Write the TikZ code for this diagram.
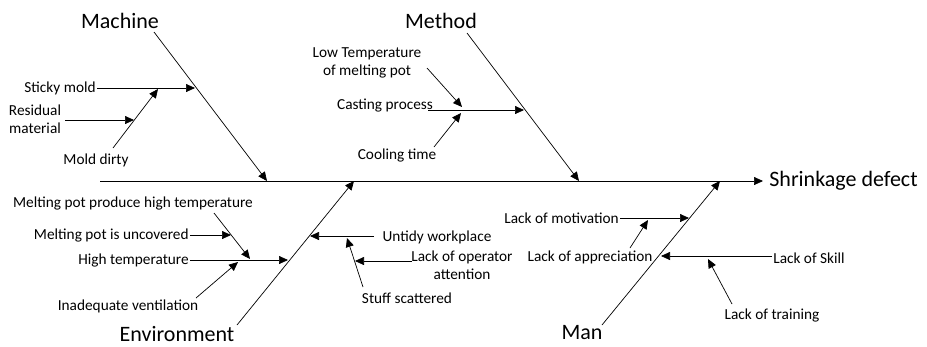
\documentclass[tikz,border=0pt]{standalone}
\usepackage{fontspec}
\setmainfont{Carlito}
\usetikzlibrary{arrows.meta}

\begin{document}
\begin{tikzpicture}[x=1pt,y=-1pt,line width=0.7pt,>={Triangle[length=9pt,width=8pt]},
  bone/.style={font=\fontsize{22}{26}\selectfont,inner sep=0pt},
  cause/.style={font=\fontsize{15.3}{18}\selectfont,inner sep=0pt,align=center}]
\useasboundingbox (0,0) rectangle (927,346);
% spine and main bones
\foreach \x/\y/\n in {100/181/S0,763/181/S1,154/32/M0,267/181/M1,467/33/T0,579/181/T1,
  237/325/E0,354/181/E1,602/325/N0,720/181/N1}
\coordinate(\n)at(\x,\y);
\foreach \a/\b in {S0/S1,M0/M1,T0/T1,E0/E1,N0/N1}
\draw[->](\a)--(\b);
\node[bone,anchor=west](head)at(769,181){Shrinkage defect};
\node[bone](machine)at(120,21){Machine};
\node[bone](method)at(441,21){Method};
\node[bone](environment)at(177,334){Environment};
\node[bone](man)at(582,333){Man};
% cause labels
\node[cause,anchor=east](sticky)at(96,88){Sticky mold};
\node[cause](residual)at(35,119){Residual\\material};
\node[cause](dirty)at(96,160){Mold dirty};
\node[cause](casting)at(385,106){Casting process};
\node[cause](lowtemp)at(367,63){Low Temperature\\of melting pot};
\node[cause](cooling)at(397,155){Cooling time};
\node[cause](mppht)at(133,203){Melting pot produce high temperature};
\node[cause,anchor=east](uncovered)at(189,235){Melting pot is uncovered};
\node[cause,anchor=east](hightemp)at(189,260){High temperature};
\node[cause](inadequate)at(128,306){Inadequate ventilation};
\node[cause](untidy)at(437,237){Untidy workplace};
\node[cause](operator)at(462,265){Lack of operator\\attention};
\node[cause](stuff)at(407,298){Stuff scattered};
\node[cause,anchor=east](motivation)at(619,218){Lack of motivation};
\node[cause](appreciation)at(590,257){Lack of appreciation};
\node[cause](skill)at(809,258){Lack of Skill};
\node[cause](training)at(772,315){Lack of training};
% cause arrows
\foreach \x/\y/\u/\v/\n in {97/88/195/88/sk,65/120/134/120/rs,113/148/158/89/dr,
  428/110/524/110/cs,427/68/462/107/lt,434/147/461/113/ct,
  190/260/288/260/ht,190/235/231/235/uc,214/213/250/259/mp,196/298/238/262/iv,
  374/236/310/236/uw,412/261/355/261/op,363/287/347/238/ss,
  620/218/689/218/mo,630/248/648/220/ap,772/256/661/256/ls,732/304/708/259/tr}
{\coordinate(\n0)at(\x,\y);\coordinate(\n1)at(\u,\v);
\draw[->](\n0)--(\n1);}
\end{tikzpicture}
\end{document}
